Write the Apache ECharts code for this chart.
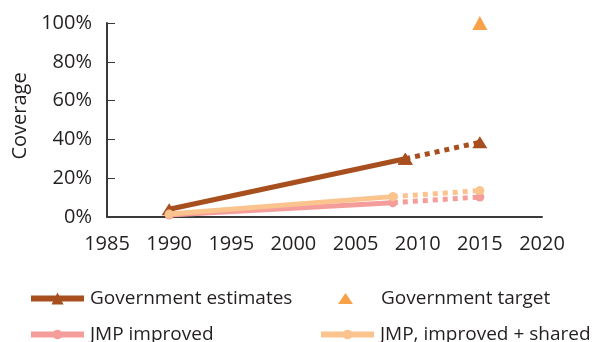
<!DOCTYPE html>
<html><head><meta charset="utf-8">
<script src="https://cdn.jsdelivr.net/npm/echarts@6/dist/echarts.min.js"></script>
<style>html,body{margin:0;padding:0;background:#fff}#c{width:600px;height:342px}</style>
</head><body><div id="c"></div>
<script>
const xTicks = [1985, 1990, 1995, 2000, 2005, 2010, 2015, 2020];
const govYears = [1990, 2009];
const govValues = [4, 30];
const govProjYears = [2009, 2015];
const govProjValues = [30, 38.5];
const targetYears = [2015];
const targetValues = [100];
const jmpYears = [1990, 2008];
const jmpValues = [1, 7.4];
const jmpProjYears = [2008, 2015];
const jmpProjValues = [7.4, 10.3];
const sharedYears = [1990, 2008];
const sharedValues = [1.5, 10.5];
const sharedProjYears = [2008, 2015];
const sharedProjValues = [10.5, 13.6];

const BROWN = '#a84f1f', ORANGE = '#f68a1c', PINK = '#f59d9b', LORANGE = '#fbc38d';
const FONT = 'Open Sans';
const TXT = '#231f20';
const pair = (xs, ys) => xs.map((x, i) => [x, ys[i]]);
const dash = [5, 5];

const chart = echarts.init(document.getElementById('c'), null, {renderer: 'canvas'});
const legendBase = {orient: 'horizontal', itemWidth: 53, padding: 0, selectedMode: false,
  lineStyle: {width: 6},
  textStyle: {fontFamily: FONT, fontSize: 19, color: TXT, padding: [0, 0, 0, 1]}};
chart.setOption({
  animation: false,
  textStyle: {fontFamily: FONT},
  grid: {left: 107, right: 58, top: 23, bottom: 125},
  xAxis: {type: 'value', min: 1985, max: 2020, interval: 5,
    axisLine: {lineStyle: {color: '#3a3a3a', width: 2}},
    axisTick: {show: false}, splitLine: {show: false},
    axisLabel: {fontFamily: FONT, fontSize: 20, color: TXT, margin: 17,
      formatter: v => xTicks.includes(v) ? String(v) : ''}},
  yAxis: {type: 'value', min: 0, max: 100, interval: 20,
    name: 'Coverage', nameLocation: 'middle', nameRotate: 90, nameGap: 77,
    nameTextStyle: {fontFamily: FONT, fontSize: 20, color: TXT, padding: [0, 0, 0, 8]},
    axisLine: {show: true, lineStyle: {color: '#3a3a3a', width: 2}},
    axisTick: {show: true, inside: true, length: 8, lineStyle: {color: '#3a3a3a', width: 1}},
    splitLine: {show: false},
    axisLabel: {fontFamily: FONT, fontSize: 20, color: TXT, margin: 15, formatter: v => v + '%'}},
  legend: [
    Object.assign({}, legendBase, {left: 28, top: 289, itemHeight: 15, data: ['Government estimates']}),
    Object.assign({}, legendBase, {left: 338, top: 289, itemWidth: 15, itemHeight: 11,
      textStyle: Object.assign({}, legendBase.textStyle, {padding: [0, 0, 0, 23]}),
      data: [{name: 'Government target', icon: 'path://M7.5,0L15,11L0,11Z'}]}),
    Object.assign({}, legendBase, {left: 28, top: 325, itemHeight: 12, data: ['JMP improved']}),
    Object.assign({}, legendBase, {left: 318, top: 325, itemHeight: 12, data: ['JMP, improved + shared']})
  ],
  series: [
    {name: 'Government estimates', type: 'line', data: pair(govYears, govValues),
      symbol: 'triangle', symbolSize: [15, 12], lineStyle: {width: 5, color: BROWN}, itemStyle: {color: BROWN}, z: 3},
    {name: 'gov-proj', type: 'line', data: pair(govProjYears, govProjValues),
      symbol: 'triangle', symbolSize: [15, 12], lineStyle: {width: 5, color: BROWN, type: dash}, itemStyle: {color: BROWN}, z: 3},
    {name: 'Government target', type: 'scatter', data: pair(targetYears, targetValues),
      symbol: 'triangle', symbolSize: [15, 14], itemStyle: {color: ORANGE}, z: 3},
    {name: 'JMP improved', type: 'line', data: pair(jmpYears, jmpValues),
      symbol: 'circle', symbolSize: 9, lineStyle: {width: 5, color: PINK}, itemStyle: {color: PINK}, z: 4},
    {name: 'jmp-proj', type: 'line', data: pair(jmpProjYears, jmpProjValues),
      symbol: 'circle', symbolSize: 9, lineStyle: {width: 5, color: PINK, type: dash}, itemStyle: {color: PINK}, z: 4},
    {name: 'JMP, improved + shared', type: 'line', data: pair(sharedYears, sharedValues),
      symbol: 'circle', symbolSize: 9, lineStyle: {width: 5, color: LORANGE}, itemStyle: {color: LORANGE}, z: 5},
    {name: 'shared-proj', type: 'line', data: pair(sharedProjYears, sharedProjValues),
      symbol: 'circle', symbolSize: 9, lineStyle: {width: 5, color: LORANGE, type: dash}, itemStyle: {color: LORANGE}, z: 5}
  ]
});
</script></body></html>
